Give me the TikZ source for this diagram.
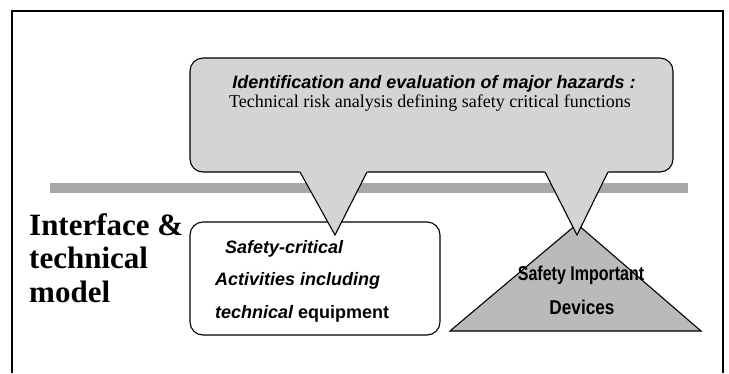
\documentclass[tikz,border=0pt]{standalone}
\usepackage{fontspec}
\setmainfont{Liberation Serif}
\setsansfont{Liberation Sans}
\begin{document}
\begin{tikzpicture}[x=1pt,y=-1pt,
  frameline/.style={line width=1.4pt},
  outline/.style={draw=black, line width=1.1pt},
  hazfill/.style={fill=black!17},
  devfill/.style={fill=black!27},
  barfill/.style={fill=black!34},
  sansbi/.style={font=\fontsize{18}{20}\selectfont\sffamily\bfseries\itshape, inner sep=0pt},
  serifreg/.style={font=\fontsize{18}{20}\selectfont\rmfamily, inner sep=0pt},
  bigserif/.style={font=\fontsize{31}{33}\selectfont\rmfamily\bfseries, inner sep=0pt, anchor=base west},
  devtext/.style={font=\fontsize{20}{22}\selectfont\sffamily\bfseries, inner sep=0pt, anchor=base},
]
\useasboundingbox (0,0) rectangle (729,373);

% frame
\draw[frameline] (12,373) -- (12,11) -- (723,11) -- (723,373);

% grey bar
\fill[barfill] (50,183) rectangle (688,193);

% top box
\node[outline, hazfill, rounded corners=13pt, minimum width=483pt, minimum height=114pt, inner sep=0pt] (hazard) at (431.5,115) {};
\node[sansbi, anchor=base] (hz1) at (434,88) {Identification and evaluation of major hazards :};
\node[serifreg, anchor=base] (hz2) at (430,107) {Technical risk analysis defining safety critical functions};

% activities box
\node[outline, fill=white, rounded corners=13pt, minimum width=250pt, minimum height=113pt, inner sep=0pt] (activities) at (315,278.5) {};
\node[sansbi, anchor=base west] (ac1) at (225,253) {Safety-critical};
\node[sansbi, anchor=base west] (ac2) at (215,285) {Activities including};
\node[sansbi, anchor=base west] (ac3) at (215,318) {technical \upshape equipment};

% devices triangle
\coordinate (dapex) at (577,224);
\coordinate (dleft) at (450,331);
\coordinate (dright) at (701,331);
\filldraw[outline, devfill] (dapex) -- (dleft) -- (dright) -- cycle;
\node[devtext] (dev1) at (581,280) {\scalebox{0.8}[1]{Safety Important}};
\node[devtext] (dev2) at (582,314) {\scalebox{0.86}[1]{Devices}};

% callout pointers
\coordinate (l1) at (300,172);
\coordinate (ltip) at (335,235);
\coordinate (l2) at (367,172);
\coordinate (r1) at (545,172);
\coordinate (rtip) at (577,235);
\coordinate (r2) at (608,172);
\fill[hazfill] (299.4,171) -- (ltip) -- (367.6,171) -- cycle;
\draw[outline] (l1) -- (ltip) -- (l2);
\fill[hazfill] (544.5,171) -- (rtip) -- (608.6,171) -- cycle;
\draw[outline] (r1) -- (rtip) -- (r2);

% left title
\node[bigserif] (t1) at (29,235) {Interface \&};
\node[bigserif] (t2) at (29,268) {technical};
\node[bigserif] (t3) at (29,302) {model};
\end{tikzpicture}
\end{document}
